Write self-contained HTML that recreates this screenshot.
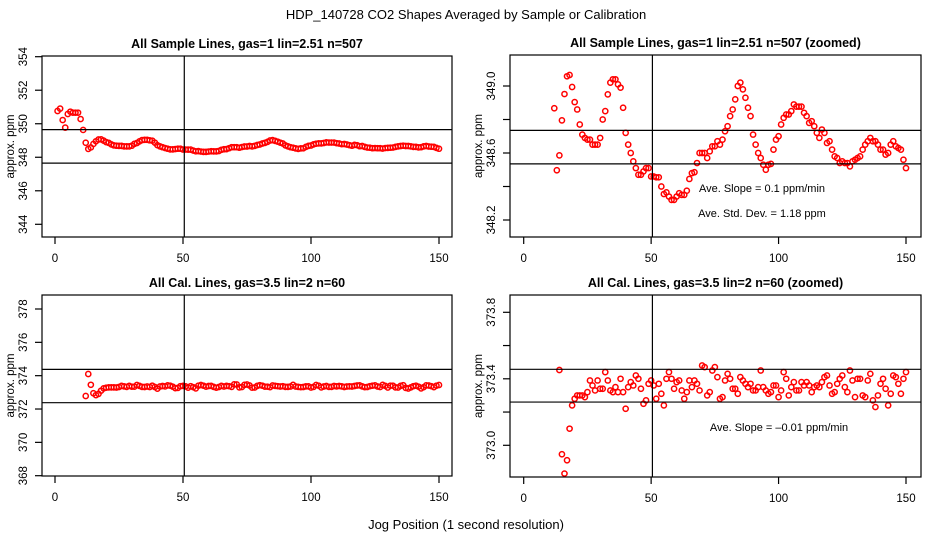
<!DOCTYPE html>
<html><head><meta charset="utf-8"><style>
html,body{margin:0;padding:0;background:#fff;}
svg{display:block;font-family:"Liberation Sans",sans-serif;}
</style></head><body>
<svg id="chart" width="936" height="540" viewBox="0 0 936 540" xmlns="http://www.w3.org/2000/svg">
<text x="466" y="19" font-size="13" text-anchor="middle">HDP_140728  CO2 Shapes Averaged by Sample or Calibration</text>
<text x="466" y="529" font-size="13" text-anchor="middle">Jog Position (1 second resolution)</text>
</svg>
<script>
const sampleStart = 1;
const sampleValues = [350.76,350.90,350.22,349.77,350.58,350.72,350.66,350.66,350.66,350.28,349.63,
348.867,348.497,348.586,348.795,348.952,349.058,349.066,348.994,348.904,348.86,348.77,348.71,348.69,348.68,348.68,348.65,348.65,348.65,348.69,348.80,348.85,348.95,349.02,349.04,349.04,349.01,348.99,348.87,348.72,348.65,348.60,348.55,348.51,348.47,348.47,348.49,348.51,348.51,348.46,348.46,348.455,348.455,348.40,348.355,348.365,348.34,348.32,348.32,348.34,348.36,348.35,348.35,348.375,348.445,348.48,348.485,348.54,348.60,348.60,348.60,348.57,348.61,348.64,348.64,348.67,348.65,348.68,348.73,348.76,348.82,348.86,348.92,349.00,349.02,348.98,348.93,348.87,348.82,348.71,348.65,348.60,348.57,348.53,348.50,348.53,348.535,348.62,348.68,348.70,348.77,348.81,348.83,348.83,348.85,348.89,348.877,348.877,348.877,348.84,348.82,348.78,348.79,348.76,348.72,348.69,348.74,348.72,348.66,348.67,348.62,348.58,348.57,348.54,348.55,348.54,348.54,348.52,348.55,348.56,348.57,348.58,348.62,348.65,348.67,348.69,348.67,348.67,348.65,348.62,348.62,348.59,348.60,348.65,348.67,348.64,348.63,348.62,348.56,348.51];
const calStart = 12;
const calValues = [372.78,374.1,373.453,372.946,372.83,372.91,373.10,373.24,373.28,373.30,373.30,373.30,373.29,373.32,373.39,373.36,373.33,373.39,373.34,373.34,373.44,373.39,373.33,373.32,373.35,373.32,373.40,373.32,373.22,373.35,373.38,373.36,373.42,373.40,373.34,373.25,373.27,373.37,373.39,373.36,373.28,373.37,373.31,373.24,373.40,373.44,373.40,373.34,373.38,373.39,373.33,373.28,373.32,373.39,373.35,373.39,373.37,373.33,373.48,373.47,373.30,373.32,373.45,373.47,373.41,373.28,373.29,373.39,373.43,373.40,373.34,373.34,373.31,373.41,373.39,373.37,373.35,373.37,373.33,373.33,373.35,373.45,373.35,373.33,373.31,373.32,373.36,373.36,373.29,373.33,373.44,373.40,373.30,373.35,373.38,373.33,373.33,373.38,373.36,373.38,373.36,373.32,373.35,373.36,373.35,373.38,373.41,373.42,373.36,373.31,373.32,373.37,373.40,373.42,373.35,373.32,373.45,373.39,373.29,373.40,373.40,373.30,373.29,373.39,373.43,373.27,373.23,373.30,373.37,373.40,373.34,373.24,373.31,373.42,373.41,373.37,373.31,373.40,373.44];
const xTicks = [0,50,100,150];
const tlYTicks = [344,346,348,350,352,354];
const trYTicks = [348.2,348.4,348.6,348.8,349.0];
const trYLabels = ["348.2","","348.6","","349.0"];
const blYTicks = [368,370,372,374,376,378];
const brYTicks = [373.0,373.2,373.4,373.6,373.8];
const brYLabels = ["373.0","","373.4","","373.8"];
const tlHLines = [349.65,347.65];
const trHLines = [348.735,348.535];
const blHLines = [374.38,372.38];
const brHLines = [373.457,373.26];
const vLineX = 50.5;

const NS = "http://www.w3.org/2000/svg";
const svg = document.getElementById('chart');
function mk(tag, attrs, parent){const e=document.createElementNS(NS,tag);for(const k in attrs)e.setAttribute(k,attrs[k]);(parent||svg).appendChild(e);return e;}

function panel(cfg){
  const g = mk('g',{});
  
  
  const xs = j => cfg.x0 + (j - 0) * (cfg.x150 - cfg.x0) / 150;
  const ys = v => cfg.yA + (cfg.vA - v) * (cfg.yB - cfg.yA) / (cfg.vA - cfg.vB);
  const t = mk('text',{x:(cfg.L+cfg.R)/2, y:cfg.T-8, 'font-size':12.5,'font-weight':'bold','text-anchor':'middle'},g);
  t.textContent = cfg.title;
  
  
  const yl = mk('text',{x:0,y:0,'font-size':11.5,'text-anchor':'middle',transform:`translate(${cfg.L-28},${(cfg.T+cfg.B)/2}) rotate(-90)`},g);
  yl.textContent = 'approx. ppm';
  
  
  const cid = 'clip-' + cfg.name;
  const cp = mk('clipPath',{id:cid},g); mk('rect',{x:cfg.L,y:cfg.T,width:cfg.R-cfg.L,height:cfg.B-cfg.T},cp);
  const pg = mk('g',{'clip-path':`url(#${cid})`},g);
  cfg.values.forEach((v,i)=>{
    const c = mk('circle',{cx:xs(cfg.start+i).toFixed(2), cy:ys(v).toFixed(2), r:2.6, fill:'none', stroke:'#ff0000','stroke-width':1.5},pg);
    
    
  });
  cfg.hlines.forEach(h=>{
    const l = mk('line',{x1:cfg.L,x2:cfg.R,y1:ys(h),y2:ys(h),stroke:'#000','stroke-width':1.2},g);
    
    
  });
  const vl = mk('line',{x1:xs(vLineX),x2:xs(vLineX),y1:cfg.T,y2:cfg.B,stroke:'#000','stroke-width':1.2},g);
  
  
  const box = mk('rect',{x:cfg.L,y:cfg.T,width:cfg.R-cfg.L,height:cfg.B-cfg.T,fill:'none',stroke:'#000','stroke-width':1.2},g);
  
  
  const xa = mk('g',{},g);
  
  
  xTicks.forEach(v=>{
    mk('line',{x1:xs(v),x2:xs(v),y1:cfg.B,y2:cfg.B+7,stroke:'#000','stroke-width':1.2},xa);
    const tx = mk('text',{x:xs(v),y:cfg.B+25,'font-size':11.5,'text-anchor':'middle'},xa);
    tx.textContent = v;
    
    
  });
  const ya = mk('g',{},g);
  
  
  cfg.yTicks.forEach((v,i)=>{
    mk('line',{x1:cfg.L-7,x2:cfg.L,y1:ys(v),y2:ys(v),stroke:'#000','stroke-width':1.2},ya);
    const lab = cfg.yLabels ? cfg.yLabels[i] : String(v);
    if(lab){
      const tx = mk('text',{x:0,y:0,'font-size':11.5,'text-anchor':'middle',transform:`translate(${cfg.L-15},${ys(v)}) rotate(-90)`},ya);
      tx.textContent = lab;
      
      
    }
  });
  (cfg.notes||[]).forEach(n=>{
    const tx = mk('text',{x:n[0],y:n[1],'font-size':11,'text-anchor':'middle'},g);
    tx.textContent = n[2];
    
    
  });
}

panel({name:'panel-sample-all',title:'All Sample Lines, gas=1 lin=2.51 n=507',L:42,R:452,T:56,B:237,x0:55,x150:439,yA:56.7,vA:354,yB:224.3,vB:344,values:sampleValues,start:sampleStart,yTicks:tlYTicks,hlines:tlHLines});
panel({name:'panel-sample-zoomed',title:'All Sample Lines, gas=1 lin=2.51 n=507 (zoomed)',L:510,R:921,T:55,B:237,x0:523.7,x150:906,yA:86,vA:349.0,yB:220,vB:348.2,values:sampleValues,start:sampleStart,yTicks:trYTicks,yLabels:trYLabels,hlines:trHLines,notes:[[762,192,'Ave. Slope = 0.1  ppm/min'],[762,217,'Ave. Std. Dev. =  1.18  ppm']]});
panel({name:'panel-cal-all',title:'All Cal. Lines, gas=3.5 lin=2 n=60',L:42,R:452,T:295,B:476,x0:55,x150:439,yA:309,vA:378,yB:475.7,vB:368,values:calValues,start:calStart,yTicks:blYTicks,hlines:blHLines});
panel({name:'panel-cal-zoomed',title:'All Cal. Lines, gas=3.5 lin=2 n=60 (zoomed)',L:510,R:921,T:295,B:477,x0:523.7,x150:906,yA:312.3,vA:373.8,yB:445.3,vB:373.0,values:calValues,start:calStart,yTicks:brYTicks,yLabels:brYLabels,hlines:brHLines,notes:[[779,431,'Ave. Slope =  \u20130.01  ppm/min']]});
</script>
</body></html>
